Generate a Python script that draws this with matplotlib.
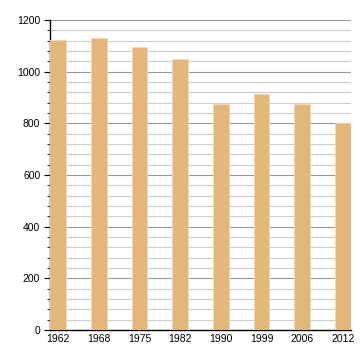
import numpy as np
import matplotlib
matplotlib.use("Agg")
import matplotlib.pyplot as plt
from matplotlib.ticker import MultipleLocator

years = ["1962", "1968", "1975", "1982", "1990", "1999", "2006", "2012"]
population = [1123, 1130, 1095, 1049, 876, 914, 876, 801]

plt.rcParams['font.family'] = ['Liberation Sans', 'DejaVu Sans']

fig = plt.figure(figsize=(3.6, 3.6), dpi=100)
ax = fig.add_axes([50/360, 30/360, 301/360, 310/360])

x = np.arange(len(years))
ax.bar(x, population, width=0.39, color="#e3b67c", edgecolor="#f3d9b5",
       linewidth=0.6, zorder=3)

ax.set_xlim(-0.2, 7.2)
ax.set_ylim(0, 1200)
ax.yaxis.set_major_locator(MultipleLocator(200))
ax.yaxis.set_minor_locator(MultipleLocator(40))
ax.grid(axis="y", which="major", color="#999999", linewidth=0.8, zorder=0)
ax.grid(axis="y", which="minor", color="#cccccc", linewidth=0.8, zorder=0)

ax.set_xticks(x)
ax.set_xticklabels(years)
ax.tick_params(axis="x", length=0, pad=3, labelsize=7.5)
ax.tick_params(axis="y", which="major", length=4, labelsize=7.5, pad=3)
ax.tick_params(axis="y", which="minor", length=2)

for s in ["top", "right"]:
    ax.spines[s].set_visible(False)
ax.spines["left"].set_linewidth(1)
ax.spines["bottom"].set_linewidth(1)

fig.savefig("out.png", dpi=100)
